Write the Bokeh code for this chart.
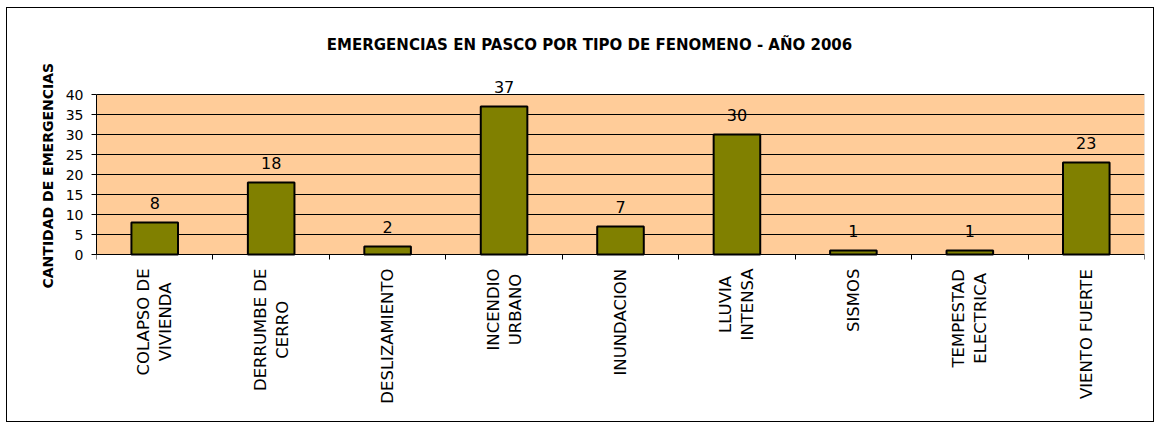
from bokeh.plotting import figure
from bokeh.models import ColumnDataSource, LabelSet, Label, FixedTicker, Range1d, BoxAnnotation, Title
from bokeh.core.properties import value
from bokeh.embed import file_html
from bokeh.resources import INLINE

# ---- data ----
categories = [
    ["COLAPSO DE", "VIVIENDA"],
    ["DERRUMBE DE", "CERRO"],
    ["DESLIZAMIENTO"],
    ["INCENDIO", "URBANO"],
    ["INUNDACION"],
    ["LLUVIA", "INTENSA"],
    ["SISMOS"],
    ["TEMPESTAD", "ELECTRICA"],
    ["VIENTO FUERTE"],
]
values = [8, 18, 2, 37, 7, 30, 1, 1, 23]
y_ticks = [0, 5, 10, 15, 20, 25, 30, 35, 40]
title_text = "EMERGENCIAS EN PASCO POR TIPO DE FENOMENO - AÑO 2006"
y_label = "CANTIDAD DE EMERGENCIAS"

FONT = "DejaVu Sans"
CAT_SIZE = 16.5
# approximate DejaVu Sans advance widths (em) for centering rotated lines
W = {"A": .684, "B": .686, "C": .698, "D": .770, "E": .632, "F": .575, "I": .295,
     "L": .557, "M": .863, "N": .748, "O": .787, "P": .603, "R": .695, "S": .635,
     "T": .611, "U": .732, "V": .684, "Z": .685, " ": .318}


def text_len(s, size):
    return sum(W.get(c, .65) for c in s) * size


n = len(categories)
centers = [i + 0.5 for i in range(n)]
ymax = y_ticks[-1]

# frame: 1048 x 407 px, 4 px per unit, y=0 at 246 px below frame top
FRAME_W, FRAME_H = 1048, 407
PX = 4.0
top_val = ymax + 86 / PX
bot_val = top_val - FRAME_H / PX

p = figure(frame_width=FRAME_W, frame_height=FRAME_H, output_backend="svg", toolbar_location=None,
           x_range=Range1d(0, n), y_range=Range1d(bot_val, top_val),
           min_border_left=89, min_border_right=9, min_border_top=0, min_border_bottom=6)
p.styles = {"border": "1px solid black", "margin-left": "6px", "margin-top": "7px"}
p.background_fill_color = "white"
p.border_fill_color = "white"
p.outline_line_color = None

# plot area background
p.add_layout(BoxAnnotation(left=0, right=n, bottom=0, top=ymax, fill_color="#FFCC99", fill_alpha=1,
                           line_color="#808080", line_width=1, level="image"))

p.vbar(x=centers, top=values, width=0.4, fill_color="#808000", line_color="black", line_width=2)

# axes
p.xaxis.ticker = FixedTicker(ticks=list(range(n + 1)))
p.xaxis.major_label_overrides = {i: "" for i in range(n + 1)}
p.xaxis.fixed_location = 0
p.xaxis.major_tick_out = 5
p.xaxis.major_tick_in = 0
p.xaxis.major_label_standoff = 0
p.xaxis.minor_tick_line_color = None
p.xaxis.axis_line_color = "black"
p.xaxis.major_tick_line_color = "black"

p.yaxis.ticker = FixedTicker(ticks=y_ticks)
p.yaxis.bounds = (0, ymax)
p.yaxis.major_tick_out = 5
p.yaxis.major_tick_in = 0
p.yaxis.minor_tick_line_color = None
p.yaxis.axis_line_color = "black"
p.yaxis.major_tick_line_color = "black"
p.yaxis.major_label_text_font = FONT
p.yaxis.major_label_text_font_size = "14px"
p.yaxis.major_label_text_color = "black"
p.yaxis.major_label_standoff = 8

# y axis title, placed on the left panel (vertical text) beside the 0-40 scale
p.add_layout(Title(text=y_label, align="left", offset=127, standoff=13,
                   text_font=FONT, text_font_size="14px", text_font_style="bold",
                   text_color="black"), "left")

p.xgrid.grid_line_color = None
p.ygrid.grid_line_color = "black"
p.ygrid.grid_line_width = 1
p.ygrid.ticker = FixedTicker(ticks=y_ticks)

# data labels
lab_src = ColumnDataSource(dict(x=centers, y=values, t=[str(v) for v in values]))
p.add_layout(LabelSet(x="x", y="y", text="t", source=lab_src, y_offset=13.5,
                      text_align="center", text_baseline="alphabetic",
                      text_font=value(FONT), text_font_size=value("16px"), text_color="black"))

# category labels (rotated, centred lines, block top-aligned)
cx, cy, ct, xo, yo = [], [], [], [], []
spacing = 22
for i, lines in enumerate(categories):
    lmax = max(text_len(s, CAT_SIZE) for s in lines)
    k = len(lines)
    for j, s in enumerate(lines):
        cx.append(centers[i])
        cy.append(0)
        ct.append(s)
        xo.append((j - (k - 1) / 2) * spacing)
        yo.append(-(14 + lmax / 2))
cat_src = ColumnDataSource(dict(x=cx, y=cy, t=ct, xo=xo, yo=yo))
p.add_layout(LabelSet(x="x", y="y", text="t", source=cat_src, x_offset="xo", y_offset="yo",
                      angle=1.5707963, text_align="center", text_baseline="middle",
                      text_font=value(FONT), text_font_size=value(f"{CAT_SIZE}px"), text_color="black"))

# title
p.add_layout(Label(x=4.234, y=ymax + (94 - 44.7) / PX, text=title_text, text_align="center",
                   text_baseline="alphabetic", text_font=FONT, text_font_size="15px",
                   text_font_style="bold", text_color="black"))

open("out.html", "w").write(file_html(p, INLINE))
